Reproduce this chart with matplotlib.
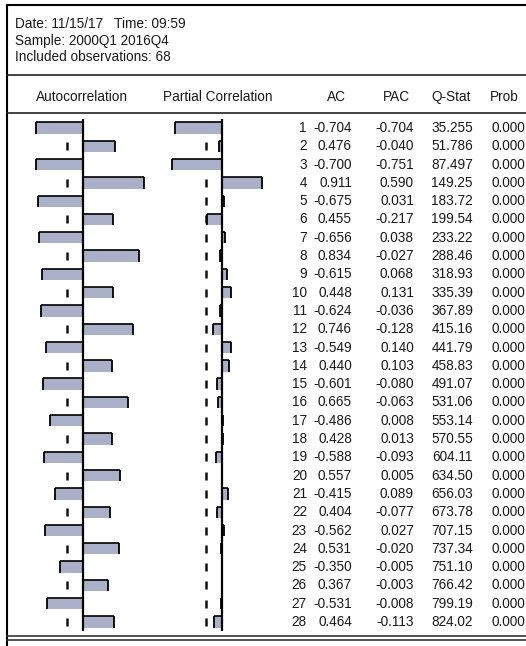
import numpy as np
import matplotlib
matplotlib.use('Agg')
import matplotlib.pyplot as plt

plt.rcParams['font.family'] = ['Liberation Sans', 'DejaVu Sans']

# correlogram values
lags = list(range(1, 29))
ac = [-0.704, 0.476, -0.700, 0.911, -0.675, 0.455, -0.656, 0.834, -0.615, 0.448,
      -0.624, 0.746, -0.549, 0.440, -0.601, 0.665, -0.486, 0.428, -0.588, 0.557,
      -0.415, 0.404, -0.562, 0.531, -0.350, 0.367, -0.531, 0.464]
pac = [-0.704, -0.040, -0.751, 0.590, 0.031, -0.217, 0.038, -0.027, 0.068, 0.131,
       -0.036, -0.128, 0.140, 0.103, -0.080, -0.063, 0.008, 0.013, -0.093, 0.005,
       0.089, -0.077, 0.027, -0.020, -0.005, -0.003, -0.008, -0.113]
qstat = [35.255, 51.786, 87.497, 149.25, 183.72, 199.54, 233.22, 288.46, 318.93, 335.39,
         367.89, 415.16, 441.79, 458.83, 491.07, 531.06, 553.14, 570.55, 604.11, 634.50,
         656.03, 673.78, 707.15, 737.34, 751.10, 766.42, 799.19, 824.02]
prob = [0.000] * 28
n_obs = 68
header_lines = ['Date: 11/15/17   Time: 09:59',
                'Sample: 2000Q1 2016Q4',
                'Included observations: %d' % n_obs]
col_titles = ['Autocorrelation', 'Partial Correlation', 'AC', 'PAC', 'Q-Stat', 'Prob']

W, H = 526, 646
BAR = '#aab0c8'
FS = 9.8
TXT = '#1a1a1a'

fig = plt.figure(figsize=(W / 100, H / 100), dpi=100)
frame = fig.add_axes([0, 0, 1, 1])
frame.set_xlim(0, W)
frame.set_ylim(H, 0)
frame.axis('off')

# window frame and rules
frame.plot([7, W], [5, 5], color='black', lw=1.5)
frame.plot([7, 7], [5, H], color='black', lw=1.5)
for y in (75, 113):
    frame.plot([7, W], [y, y], color='#222222', lw=1.2)
for y in (636, 640):
    frame.plot([7, W], [y, y], color='#333333', lw=1.2)

for i, line in enumerate(header_lines):
    frame.text(15, 24 + 16.5 * i, line, fontsize=FS, va='center', ha='left', color=TXT)

frame.text(82, 97, col_titles[0], fontsize=FS, ha='center', va='center', color=TXT)
frame.text(218, 97, col_titles[1], fontsize=FS, ha='center', va='center', color=TXT)
frame.text(346, 97, col_titles[2], fontsize=FS, ha='right', va='center', color=TXT)
frame.text(410, 97, col_titles[3], fontsize=FS, ha='right', va='center', color=TXT)
frame.text(471, 97, col_titles[4], fontsize=FS, ha='right', va='center', color=TXT)
frame.text(490, 97, col_titles[5], fontsize=FS, ha='left', va='center', color=TXT)

# bar panels: lag 1 at y=128, lag 28 at y=622
y_top, y_bot = 128, 622
step = (y_bot - y_top) / 27
pix_top = y_top - step / 2
pix_bot = y_bot + step / 2
bound = 2 / np.sqrt(n_obs)


def bar_panel(x0, vals):
    ax = fig.add_axes([(x0 - 67) / W, (H - pix_bot) / H, 134 / W, (pix_bot - pix_top) / H])
    ax.set_xlim(-1, 1)
    ax.set_ylim(28.5, 0.5)
    ax.axis('off')
    ax.plot([-bound] * len(lags), lags, ls='none', marker='|', ms=6, mew=1.8,
            color='#111111', zorder=1)
    ax.barh(lags, vals, height=0.62, color=BAR, edgecolor='none', zorder=2)
    v = np.array(vals)
    l = np.array(lags)
    ax.vlines(v, l - 0.31, l + 0.31, color='black', lw=1.3, zorder=3)
    ax.hlines(l - 0.31, 0, v, color='black', lw=1.2, zorder=3)
    ax.axvline(0, color='black', lw=1.6, zorder=4)
    return ax


bar_panel(83, ac)
bar_panel(222, pac)

for i, k in enumerate(lags):
    y = y_top + step * i
    frame.text(307, y, str(k), fontsize=FS, ha='right', va='center', color=TXT)
    frame.text(352, y, '%.3f' % ac[i], fontsize=FS, ha='right', va='center', color=TXT)
    frame.text(414, y, '%.3f' % pac[i], fontsize=FS, ha='right', va='center', color=TXT)
    frame.text(473, y, ('%.3f' % qstat[i]) if qstat[i] < 100 else ('%.2f' % qstat[i]),
               fontsize=FS, ha='right', va='center', color=TXT)
    frame.text(491, y, '%.3f' % prob[i], fontsize=FS, ha='left', va='center', color=TXT)

fig.savefig('out.png', dpi=100, facecolor='white')
